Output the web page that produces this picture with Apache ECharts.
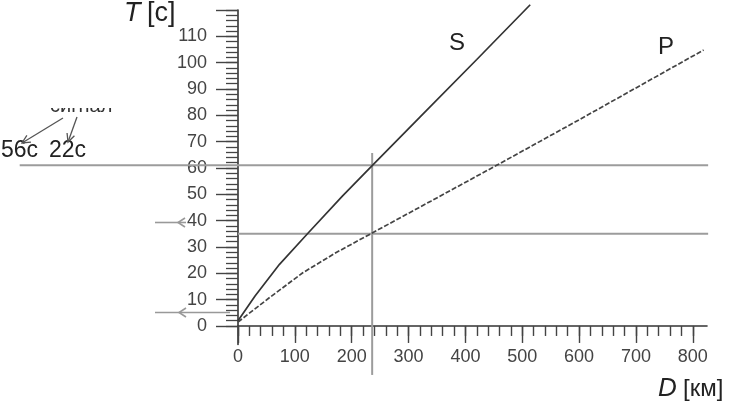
<!DOCTYPE html>
<html><head><meta charset="utf-8">
<script src="https://cdn.jsdelivr.net/npm/echarts@6/dist/echarts.min.js"></script>
<style>html,body{margin:0;padding:0;background:#fff}#c{width:730px;height:406px}</style>
</head><body><div id="c"></div>
<script>
// ---- data ----
const sDist = [0, 30, 73, 123, 184, 236, 320, 420, 514];
const sTime = [2, 11.4, 23.4, 35.2, 49.4, 60.9, 79.3, 101.2, 122];
const pDist = [0, 55, 114, 172, 236, 340, 454, 600, 819];
const pTime = [1.5, 10.7, 20.2, 27.8, 35.3, 47.5, 60.9, 78.3, 104.8];
const xMajorTicks = [0, 100, 200, 300, 400, 500, 600, 700, 800];
const xMinorTicks = [0,20,40,60,80,100,120,140,160,180,200,220,240,260,280,300,320,340,360,380,400,420,440,460,480,500,520,540,560,580,600,620,640,660,680,700,720,740,760,780,800];
const yMajorTicks = [0, 10, 20, 30, 40, 50, 60, 70, 80, 90, 100, 110, 120];
const yTickLabels = [0, 10, 20, 30, 40, 50, 60, 70, 80, 90, 100, 110];
const yMinorTicks = [0,2,4,6,8,10,12,14,16,18,20,22,24,26,28,30,32,34,36,38,40,42,44,46,48,50,52,54,56,58,60,62,64,66,68,70,72,74,76,78,80,82,84,86,88,90,92,94,96,98,100,102,104,106,108,110,112,114,116,118,120];
const refTimes = [61, 35];
const refDist = 236;

const chart = echarts.init(document.getElementById('c'), null, {renderer: 'canvas'});
const tickFont = "'Liberation Sans',Arial,sans-serif";
const txtFont = "'Liberation Sans',Arial,sans-serif";

function zip(a, b) { return a.map((v, i) => [v, b[i]]); }

// extents of the reference lines (layout, not data)
const leftExt = -384, rightExt = 827, vTop = 65.7, vBot = -18.6;

function arrowHead(x1, y1, x2, y2, len, ang) {
  const a = Math.atan2(y1 - y2, x1 - x2);
  return [
    [x2 + len * Math.cos(a + ang), y2 + len * Math.sin(a + ang)],
    [x2, y2],
    [x2 + len * Math.cos(a - ang), y2 + len * Math.sin(a - ang)]
  ];
}

const graphics = [
  {type: 'text', left: 124, top: 0, style: {text: 'T', font: 'italic 27px ' + txtFont, fill: '#222'}},
  {type: 'text', left: 147, top: 0, style: {text: '[c]', font: '27px ' + txtFont, fill: '#222'}},
  {type: 'text', left: 658, top: 376, style: {text: 'D', font: 'italic 26px ' + txtFont, fill: '#222'}},
  {type: 'text', left: 683, top: 377, style: {text: '[км]', font: '24px ' + txtFont, fill: '#222'}},
  {type: 'text', left: 449, top: 31, style: {text: 'S', font: '24px ' + txtFont, fill: '#222'}},
  {type: 'text', left: 658, top: 35, style: {text: 'P', font: '24px ' + txtFont, fill: '#222'}},
  {type: 'text', left: 1, top: 139, style: {text: '56c', font: '23px ' + txtFont, fill: '#222'}},
  {type: 'text', left: 49, top: 139, style: {text: '22c', font: '23px ' + txtFont, fill: '#222'}},
  {type: 'text', left: 50, top: 96, z: 1, style: {text: 'сигнал', font: '20px ' + txtFont, fill: '#333'}},
  {type: 'rect', shape: {x: 40, y: 80, width: 90, height: 28}, z: 5, style: {fill: '#fff'}},
  // arrows to 56c / 22c
  {type: 'polyline', z: 6, shape: {points: [[63, 118], [22, 143]]}, style: {stroke: '#555', lineWidth: 1.3, fill: null}},
  {type: 'polyline', z: 6, shape: {points: arrowHead(63, 118, 22, 143, 9, 0.45)}, style: {stroke: '#555', lineWidth: 1.3, fill: null}},
  {type: 'polyline', z: 6, shape: {points: [[77, 117], [68, 142]]}, style: {stroke: '#555', lineWidth: 1.3, fill: null}},
  {type: 'polyline', z: 6, shape: {points: arrowHead(77, 117, 68, 142, 9, 0.45)}, style: {stroke: '#555', lineWidth: 1.3, fill: null}},
  // arrows at the T axis
  {type: 'polyline', shape: {points: [[155, 222.5], [186, 222.5]]}, style: {stroke: '#999', lineWidth: 1.6, fill: null}},
  {type: 'polyline', shape: {points: [[185, 218], [178, 222.5], [185, 227]]}, style: {stroke: '#999', lineWidth: 1.6, fill: null}},
  {type: 'polyline', shape: {points: [[155, 312.5], [230, 312.5]]}, style: {stroke: '#999', lineWidth: 1.6, fill: null}},
  {type: 'polyline', shape: {points: [[186, 308], [179, 312.5], [186, 317]]}, style: {stroke: '#999', lineWidth: 1.6, fill: null}}
];

const refSegments = [
  [leftExt, refTimes[0], rightExt, refTimes[0]],
  [0, refTimes[1], rightExt, refTimes[1]],
  [refDist, vTop, refDist, vBot]
];

const option = {
  animation: false,
  backgroundColor: '#fff',
  grid: {left: 238, top: 10, right: 23, bottom: 61.6, containLabel: false},
  xAxis: [
    {
      type: 'value', min: 0, max: 825, position: 'bottom',
      axisLine: {show: true, onZero: true, onZeroAxisIndex: 0, lineStyle: {color: '#333', width: 1.6}},
      axisTick: {show: true, inside: false, length: 17, customValues: xMajorTicks, lineStyle: {color: '#444', width: 1.4}},
      axisLabel: {show: true, customValues: xMajorTicks, margin: 4, color: '#444', fontSize: 18, fontFamily: tickFont},
      splitLine: {show: false}
    },
    {
      type: 'value', min: 0, max: 825, position: 'bottom',
      axisLine: {show: false, onZero: true, onZeroAxisIndex: 0},
      axisTick: {show: true, inside: false, length: 10, customValues: xMinorTicks, lineStyle: {color: '#444', width: 1.4}},
      axisLabel: {show: false},
      splitLine: {show: false}
    }
  ],
  yAxis: [
    {
      type: 'value', min: -7, max: 120, position: 'left',
      axisLine: {show: true, onZero: false, lineStyle: {color: '#333', width: 1.6}},
      axisTick: {show: true, inside: false, length: 22, customValues: yMajorTicks, lineStyle: {color: '#444', width: 1.4}},
      axisLabel: {show: true, customValues: yTickLabels, margin: 31, color: '#444', fontSize: 18, fontFamily: tickFont},
      splitLine: {show: false}
    },
    {
      type: 'value', min: -7, max: 120, position: 'left',
      axisLine: {show: false, onZero: false},
      axisTick: {show: true, inside: false, length: 12, customValues: yMinorTicks, lineStyle: {color: '#444', width: 1.3}},
      axisLabel: {show: false},
      splitLine: {show: false}
    }
  ],
  series: [
    {
      type: 'custom', coordinateSystem: 'cartesian2d', xAxisIndex: 0, yAxisIndex: 0,
      data: refSegments, clip: false, silent: true, z: 1,
      encode: {x: [0, 2], y: [1, 3]},
      renderItem: function (params, api) {
        const p1 = api.coord([api.value(0), api.value(1)]);
        const p2 = api.coord([api.value(2), api.value(3)]);
        return {type: 'line', shape: {x1: p1[0], y1: p1[1], x2: p2[0], y2: p2[1]},
                style: {stroke: '#9c9c9c', lineWidth: 2}};
      }
    },
    {
      name: 'S', type: 'line', data: zip(sDist, sTime), clip: false, showSymbol: false, z: 3,
      xAxisIndex: 0, yAxisIndex: 0,
      lineStyle: {color: '#333', width: 1.7}
    },
    {
      name: 'P', type: 'line', data: zip(pDist, pTime), clip: false, showSymbol: false, z: 3,
      xAxisIndex: 0, yAxisIndex: 0,
      lineStyle: {color: '#444', width: 1.7, type: [5, 2]}
    }
  ],
  graphic: graphics
};
chart.setOption(option);
</script>
</body></html>
